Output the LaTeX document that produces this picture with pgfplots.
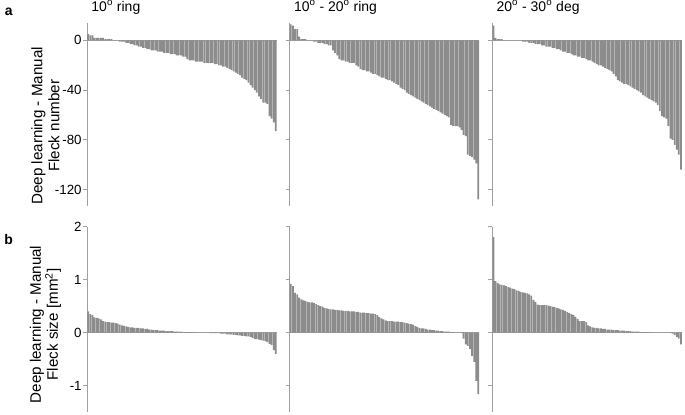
\documentclass[border=0pt]{standalone}
\usepackage{fontspec}
\setmainfont{Liberation Sans}
\usepackage{pgfplots}
\usepackage{pgfplotstable}
\pgfplotsset{compat=1.18}

\definecolor{axgray}{RGB}{160,160,160}
\definecolor{bargray}{RGB}{140,140,140}

% sorted differences (deep learning - manual), one column per panel
\pgfplotstableread{
i a1 a2 a3 b1 b2 b3
1 5 13 12 0.40 0.92 1.80
2 4 12 2 0.35 0.88 0.97
3 4 9 1 0.33 0.75 0.94
4 2 9 1 0.29 0.72 0.91
5 2 3 1 0.28 0.66 0.90
6 2 1 0 0.27 0.63 0.89
7 2 1 0 0.25 0.61 0.88
8 2 1 0 0.22 0.60 0.86
9 1 0 0 0.21 0.58 0.85
10 1 0 0 0.20 0.57 0.83
11 1 0 0 0.20 0.57 0.82
12 1 -1 0 0.19 0.56 0.80
13 0 -1 0 0.19 0.54 0.79
14 0 -2 0 0.18 0.52 0.77
15 0 -2 -1 0.17 0.50 0.76
16 -1 -2 -1 0.15 0.49 0.75
17 -1 -3 -1 0.14 0.47 0.74
18 -1 -3 -2 0.13 0.46 0.72
19 -2 -4 -2 0.12 0.45 0.70
20 -2 -4 -2 0.11 0.44 0.62
21 -3 -8 -3 0.10 0.44 0.58
22 -3 -10 -3 0.10 0.43 0.53
23 -4 -12 -3 0.09 0.43 0.52
24 -4 -15 -4 0.09 0.42 0.52
25 -5 -16 -4 0.09 0.42 0.52
26 -5 -16 -5 0.08 0.41 0.52
27 -6 -17 -5 0.08 0.41 0.51
28 -6 -17 -5 0.07 0.41 0.50
29 -7 -18 -6 0.07 0.40 0.49
30 -7 -18 -6 0.06 0.40 0.48
31 -8 -18 -7 0.06 0.40 0.47
32 -8 -20 -7 0.05 0.39 0.46
33 -8 -21 -8 0.05 0.39 0.44
34 -9 -23 -9 0.05 0.38 0.43
35 -9 -24 -9 0.04 0.38 0.41
36 -9 -24 -10 0.04 0.38 0.39
37 -10 -25 -10 0.04 0.37 0.37
38 -10 -25 -11 0.03 0.37 0.35
39 -10 -26 -12 0.03 0.36 0.33
40 -11 -27 -12 0.03 0.36 0.30
41 -11 -27 -13 0.03 0.35 0.26
42 -11 -28 -13 0.02 0.33 0.22
43 -12 -29 -14 0.02 0.30 0.22
44 -12 -30 -14 0.02 0.27 0.22
45 -12 -30 -15 0.02 0.25 0.20
46 -13 -31 -16 0.01 0.23 0.14
47 -13 -32 -16 0.01 0.22 0.12
48 -15 -32 -17 0.01 0.22 0.10
49 -16 -33 -18 0.01 0.22 0.09
50 -16 -34 -19 0.01 0.21 0.09
51 -16 -35 -20 0.01 0.21 0.08
52 -17 -36 -20 0.00 0.21 0.08
53 -17 -38 -21 0.00 0.20 0.07
54 -17 -39 -22 0.00 0.20 0.07
55 -17 -40 -23 0.00 0.19 0.06
56 -18 -42 -24 0.00 0.18 0.06
57 -18 -43 -25 0.00 0.17 0.06
58 -18 -44 -27 0.00 0.16 0.05
59 -18 -45 -29 -0.01 0.15 0.05
60 -18 -46 -32 -0.01 0.13 0.05
61 -19 -47 -33 -0.01 0.11 0.04
62 -19 -48 -34 -0.01 0.09 0.04
63 -20 -49 -35 -0.01 0.08 0.04
64 -20 -50 -35 -0.02 0.08 0.03
65 -21 -51 -36 -0.02 0.07 0.03
66 -21 -52 -37 -0.02 0.06 0.03
67 -22 -53 -38 -0.03 0.06 0.02
68 -23 -54 -39 -0.03 0.05 0.02
69 -24 -55 -40 -0.03 0.05 0.02
70 -25 -56 -41 -0.04 0.04 0.02
71 -26 -57 -42 -0.04 0.04 0.01
72 -27 -58 -44 -0.05 0.03 0.01
73 -28 -59 -45 -0.05 0.03 0.01
74 -30 -60 -46 -0.06 0.02 0.01
75 -31 -61 -47 -0.06 0.02 0.01
76 -32 -62 -48 -0.07 0.02 0.00
77 -34 -68 -49 -0.07 0.01 0.00
78 -36 -69 -50 -0.08 0.01 0.00
79 -38 -69 -52 -0.10 0.00 0.00
80 -40 -69 -57 -0.12 0.00 0.00
81 -42 -70 -61 -0.12 0.00 0.00
82 -45 -72 -62 -0.13 -0.01 0.00
83 -47 -76 -63 -0.14 -0.11 0.00
84 -50 -77 -69 -0.15 -0.22 0.00
85 -50 -92 -79 -0.16 -0.25 0.00
86 -51 -93 -80 -0.18 -0.31 -0.02
87 -61 -94 -84 -0.21 -0.44 -0.04
88 -63 -96 -88 -0.23 -0.55 -0.08
89 -66 -99 -92 -0.33 -0.91 -0.11
90 -73 -128 -104 -0.40 -1.16 -0.22
}\flecks

\pgfplotsset{
  panel/.style={
    scale only axis, width=142.5pt,
    xmin=0.5, xmax=90.5,
    axis y line*=left, axis x line=none,
    xtick=\empty,
    axis line style={axgray, line width=0.6pt},
    y tick style={axgray, line width=0.6pt},
    tick align=outside, major tick length=3pt,
    /pgf/number format/assume math mode=true,
    ticklabel style={font=\fontsize{10}{11}\selectfont, inner sep=1pt},
    title style={at={(axis description cs:0,1)}, anchor=south west,
      xshift=2.5pt, inner sep=0.5pt, font=\fontsize{10.5}{12}\selectfont},
    ylabel style={anchor=center, align=center,
      font=\fontsize{11.4}{12.8}\selectfont},
  },
  toprow/.style={panel, height=137.25pt, ymin=-133, ymax=14,
    ytick={-120,-80,-40,0}},
  botrow/.style={panel, height=139.5pt, ymin=-1.5, ymax=2,
    ytick={-1,0,1,2}},
  fleck/.style={ybar, bar width=0.82, fill=bargray, draw=none},
  zeroline/.style={axgray, line width=0.6pt, forget plot},
}

\begin{document}
\begin{tikzpicture}
\path (0,0) rectangle (513.75pt,-309pt);

% row a: fleck number
\begin{axis}[toprow, at={(64.5pt,-15pt)}, anchor=north west,
  title={10\textsuperscript{o} ring},
  ylabel={Deep learning - Manual\\Fleck number},
  ylabel style={at={(axis description cs:-0.22,0.437)}}]
\addplot[zeroline] coordinates {(0.5,0) (90.5,0)};
\addplot[fleck] table[x=i, y=a1] {\flecks};
\end{axis}

\begin{axis}[toprow, at={(216.75pt,-15pt)}, anchor=north west,
  yticklabels={},
  title={10\textsuperscript{o} - 20\textsuperscript{o} ring}]
\addplot[zeroline] coordinates {(0.5,0) (90.5,0)};
\addplot[fleck] table[x=i, y=a2] {\flecks};
\end{axis}

\begin{axis}[toprow, at={(369pt,-15pt)}, anchor=north west,
  yticklabels={},
  title={20\textsuperscript{o} - 30\textsuperscript{o} deg}]
\addplot[zeroline] coordinates {(0.5,0) (90.5,0)};
\addplot[fleck] table[x=i, y=a3] {\flecks};
\end{axis}

% row b: fleck size
\begin{axis}[botrow, at={(64.5pt,-168pt)}, anchor=north west,
  ylabel={Deep learning - Manual\\Fleck size [mm\textsuperscript{2}]},
  ylabel style={at={(axis description cs:-0.22,0.473)}}]
\addplot[zeroline] coordinates {(0.5,0) (90.5,0)};
\addplot[fleck] table[x=i, y=b1] {\flecks};
\end{axis}

\begin{axis}[botrow, at={(216.75pt,-168pt)}, anchor=north west,
  yticklabels={}]
\addplot[zeroline] coordinates {(0.5,0) (90.5,0)};
\addplot[fleck] table[x=i, y=b2] {\flecks};
\end{axis}

\begin{axis}[botrow, at={(369pt,-168pt)}, anchor=north west,
  yticklabels={}]
\addplot[zeroline] coordinates {(0.5,0) (90.5,0)};
\addplot[fleck] table[x=i, y=b3] {\flecks};
\end{axis}

\node[font=\bfseries\fontsize{10.5}{12}\selectfont] at (5.5pt,-6.5pt) {a};
\node[font=\bfseries\fontsize{10.5}{12}\selectfont] at (5.5pt,-177.5pt) {b};
\end{tikzpicture}
\end{document}
